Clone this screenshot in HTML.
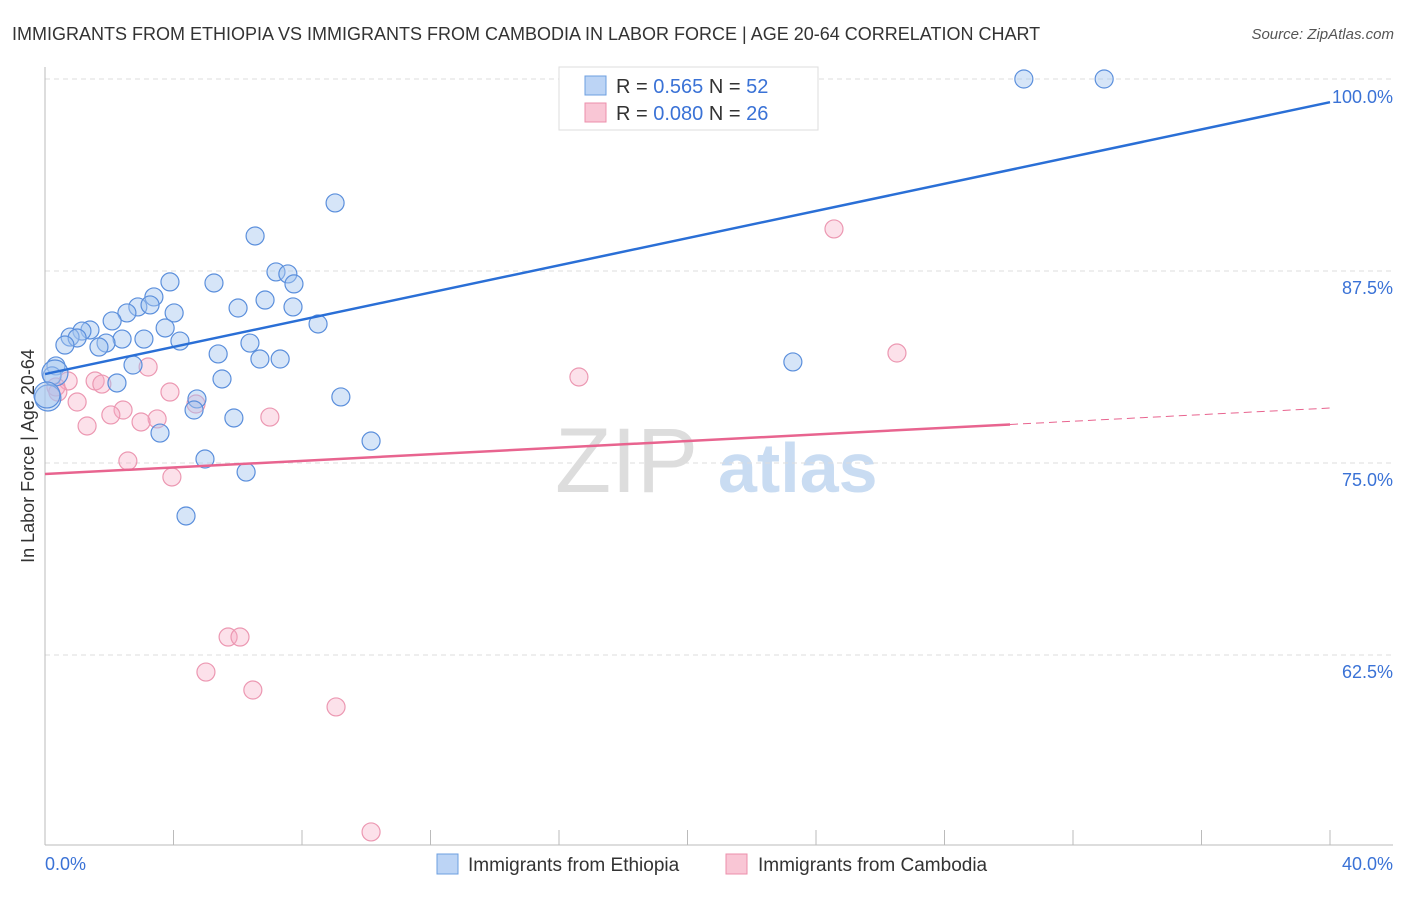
<!DOCTYPE html>
<html><head><meta charset="utf-8"><style>
body{margin:0;background:#fff;font-family:"Liberation Sans",sans-serif;}
svg text{font-family:"Liberation Sans",sans-serif;}
</style></head><body>
<svg id="chart" width="1406" height="892" xmlns="http://www.w3.org/2000/svg">
<text x="12" y="40" font-size="18" fill="#333">IMMIGRANTS FROM ETHIOPIA VS IMMIGRANTS FROM CAMBODIA IN LABOR FORCE | AGE 20-64 CORRELATION CHART</text>
<text x="1394" y="39" font-size="15" fill="#555" font-style="italic" text-anchor="end">Source: ZipAtlas.com</text>
<g><text x="555" y="492" font-size="92" fill="#ddd" font-family="Liberation Serif,serif">ZIP</text><text x="718" y="492" font-size="70" fill="#c9dcf2" font-weight="bold">atlas</text></g>
<g id="grid"></g>
<g id="axes"></g>
<g id="marks"></g>
<g>
<rect x="559" y="67" width="259" height="63" fill="#fff" stroke="#ddd"/>
<rect x="585" y="76" width="21" height="19" fill="#bcd4f5" stroke="#6d9fe0"/>
<rect x="585" y="103" width="21" height="19" fill="#f9c6d5" stroke="#ec8fab"/>
<text x="616" y="93" font-size="20" fill="#333">R = <tspan fill="#3a72d6">0.565</tspan>   N = <tspan fill="#3a72d6">52</tspan></text>
<text x="616" y="120" font-size="20" fill="#333">R = <tspan fill="#3a72d6">0.080</tspan>   N = <tspan fill="#3a72d6">26</tspan></text>
</g>
<g>
<rect x="437" y="854" width="21" height="20" fill="#bcd4f5" stroke="#6d9fe0"/>
<text x="468" y="871" font-size="19" fill="#333">Immigrants from Ethiopia</text>
<rect x="726" y="854" width="21" height="20" fill="#f9c6d5" stroke="#ec8fab"/>
<text x="758" y="871" font-size="19" fill="#333">Immigrants from Cambodia</text>
</g>
<text transform="translate(34,456) rotate(-90)" font-size="18" fill="#333" text-anchor="middle">In Labor Force | Age 20-64</text>
</svg>
<script>
const yTicks=[100,87.5,75,62.5];
const yTickLabels=["100.0%","87.5%","75.0%","62.5%"];
const xTicks=[0,4,8,12,16,20,24,28,32,36,40];
const ethX=[30.47,32.97,9.03,6.54,7.19,7.56,3.89,5.26,7.75,3.39,6.85,2.89,3.27,6.01,7.72,2.55,4.02,2.09,8.50,3.74,1.40,1.15,0.78,1.00,3.08,2.40,4.20,0.62,1.90,1.68,6.38,5.39,6.69,7.32,23.28,0.34,2.74,0.22,5.51,2.24,9.21,4.73,4.64,5.88,3.58,10.15,4.98,6.26,4.39,0.09,0.31,0.06];
const ethY=[100,100,91.93,89.78,87.44,87.31,86.79,86.72,86.66,85.81,85.61,85.16,85.29,85.09,85.16,84.77,84.77,84.25,84.05,83.79,83.66,83.59,83.20,83.14,83.07,83.07,82.94,82.68,82.81,82.55,82.81,82.10,81.77,81.77,81.58,81.32,81.38,80.67,80.47,80.21,79.30,79.17,78.45,77.93,76.95,76.43,75.26,74.41,71.55,79.23,80.86,79.43];
const camX=[24.56,26.52,16.62,3.21,0.72,1.56,1.77,0.34,3.89,0.40,1.00,2.43,2.05,4.70,7.00,3.49,2.99,1.31,2.58,3.95,5.70,6.07,5.01,6.47,9.06,10.15];
const camY=[90.24,82.16,80.60,81.25,80.34,80.34,80.14,79.95,79.62,79.62,78.97,78.45,78.13,78.84,77.99,77.87,77.67,77.41,75.13,74.09,63.67,63.67,61.39,60.22,59.12,50.98];
const ethTrend=[80.79,98.49];
const camTrend=[74.28,78.58];
const camSolidEnd=30.04;
const X=v=>45+v*(1285/40);
const Y=v=>79+(100-v)*(192/12.5);
const NS="http://www.w3.org/2000/svg";
function mk(p,tag,a){const e=document.createElementNS(NS,tag);for(const k in a)e.setAttribute(k,a[k]);document.getElementById(p).appendChild(e);return e;}
yTicks.forEach((t,i)=>{
 const l=mk('grid','line',{x1:45,x2:1393,y1:Y(t),y2:Y(t),stroke:'#ddd','stroke-dasharray':'5,4'});
 
 
 const tx=mk('grid','text',{x:1393,y:Y(t)+(i==0?24:23),'font-size':18,fill:'#3a72d6','text-anchor':'end'});
 tx.textContent=yTickLabels[i];
 
 
});
const ax=mk('axes','line',{x1:45,x2:45,y1:67,y2:845,stroke:'#bbb'});


const bx=mk('axes','line',{x1:45,x2:1393,y1:845,y2:845,stroke:'#bbb'});


xTicks.forEach(t=>{if(t===0)return;const l=mk('axes','line',{x1:X(t),x2:X(t),y1:830,y2:845,stroke:'#bbb'});
 
 });
const xl0=mk('axes','text',{x:45,y:870,'font-size':18,fill:'#3a72d6'});xl0.textContent='0.0%';


const xl1=mk('axes','text',{x:1393,y:870,'font-size':18,fill:'#3a72d6','text-anchor':'end'});xl1.textContent='40.0%';


camX.forEach((x,i)=>{const c=mk('marks','circle',{cx:X(x),cy:Y(camY[i]),r:9,fill:'rgba(246,170,195,0.35)',stroke:'#ec98b2','stroke-width':1.2});
 
 });
ethX.forEach((x,i)=>{const c=mk('marks','circle',{cx:X(x),cy:Y(ethY[i]),r:(i>=49?13:9),fill:'rgba(165,198,240,0.45)',stroke:'#5b8fdc','stroke-width':1.2});
 
 });
const bt=mk('marks','line',{x1:X(0),y1:Y(ethTrend[0]),x2:X(40),y2:Y(ethTrend[1]),stroke:'#2a6fd6','stroke-width':2.5});


const cm=camTrend[0]+(camTrend[1]-camTrend[0])*camSolidEnd/40;
const pt=mk('marks','line',{x1:X(0),y1:Y(camTrend[0]),x2:X(camSolidEnd),y2:Y(cm),stroke:'#e8648f','stroke-width':2.5});


const pd=mk('marks','line',{x1:X(camSolidEnd),y1:Y(cm),x2:X(40),y2:Y(camTrend[1]),stroke:'#e8648f','stroke-width':1,'stroke-dasharray':'8,5'});


</script>
</body></html>
